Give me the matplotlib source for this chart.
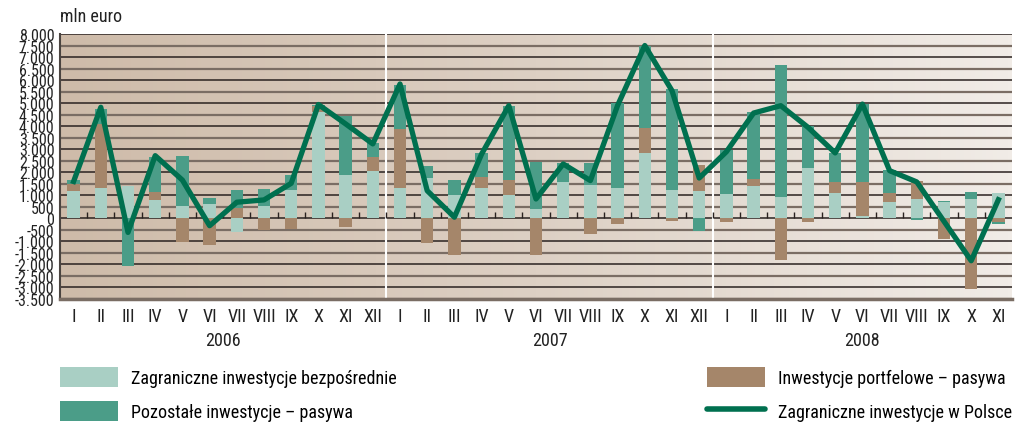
import numpy as np
import matplotlib
matplotlib.use('Agg')
import matplotlib.pyplot as plt
from matplotlib import font_manager
from matplotlib.colors import LinearSegmentedColormap
from matplotlib.patches import Patch
from matplotlib.lines import Line2D

installed = {f.name for f in font_manager.fontManager.ttflist}
narrow = [f for f in ['Roboto Condensed', 'Liberation Sans Narrow', 'DejaVu Sans Condensed',
	'Open Sans Condensed', 'Noto Sans Condensed'] if f in installed]
plt.rcParams['font.family'] = narrow + ['DejaVu Sans']
if not narrow:
	plt.rcParams['font.stretch'] = 'condensed'

months = ['I', 'II', 'III', 'IV', 'V', 'VI', 'VII', 'VIII', 'IX', 'X', 'XI', 'XII'] * 2 + \
	['I', 'II', 'III', 'IV', 'V', 'VI', 'VII', 'VIII', 'IX', 'X', 'XI']
years = ['2006', '2007', '2008']
year_lengths = [12, 12, 11]

# mln euro
fdi = [1200, 1300, 1390, 800, 535, 620, -580, 535, 1230, 4600, 1900, 2050,
	1320, 1750, 1010, 1320, 1010, 400, 1580, 1460, 1320, 2840, 1230, 1190,
	1060, 1400, 930, 2190, 1100, 100, 710, 840, 720, 840, 1100]
portfolio = [290, 2800, 0, 340, -1010, -1140, 450, -510, -460, 290, -380, 610,
	2560, -1090, -1580, 490, 650, -1580, 0, -680, -230, 1090, -120, 1130,
	-150, 300, -1800, -150, 480, 1480, 400, 780, -900, -3050, -170]
other = [190, 650, -2060, 1530, 2170, 260, 780, 740, 650, 50, 2520, 610,
	1910, 510, 650, 1030, 3230, 2040, 840, 940, 3690, 3530, 4390, -540,
	1920, 2900, 5730, 1810, 1260, 3390, 990, -60, 50, 300, -90]
total = [1600, 4820, -610, 2720, 1660, -320, 700, 800, 1520, 4940, 4100, 3230,
	5830, 1200, 50, 2790, 4890, 840, 2360, 1640, 4900, 7500, 5540, 1750,
	2890, 4570, 4890, 3950, 2840, 4960, 2070, 1580, -130, -1840, 810]

labels = ['Zagraniczne inwestycje bezpośrednie', 'Pozostałe inwestycje – pasywa',
	'Inwestycje portfelowe – pasywa', 'Zagraniczne inwestycje w Polsce']
c_fdi = '#a9cfc4'
c_other = '#4b9d88'
c_port = '#a5866a'
c_line = '#00704f'

fs_y = 11.5 if narrow else 10
fs = 13 if narrow else 10.5

fig = plt.figure(figsize=(10.16, 4.31), dpi=100)
ax = fig.add_axes([60 / 1016, 1 - 300 / 431, 952 / 1016, 265 / 431])

ymin, ymax = -3500, 8000
n = len(months)
x = np.arange(n)
ax.set_xlim(-0.5, n - 0.5)
ax.set_ylim(ymin, ymax)

# background gradient
cmap = LinearSegmentedColormap.from_list('bg', ['#cebba9', '#ddd0c4', '#f1ece7'])
ax.imshow(np.linspace(0, 1, 256).reshape(1, -1), cmap=cmap, aspect='auto',
	extent=(-0.5, n - 0.5, ymin, ymax), zorder=0)

yticks = list(range(ymin, ymax + 1, 500))
for v in yticks:
	if v % 1000 == 0:
		ax.axhline(v, color='#2a2220', lw=1.1, zorder=1)
	else:
		ax.axhline(v, color='#7a6d64', lw=1.6, zorder=1)

# stacked bars, positives upward and negatives downward
pos_base = np.zeros(n)
neg_base = np.zeros(n)
for vals, col in [(fdi, c_fdi), (portfolio, c_port), (other, c_other)]:
	vals = np.array(vals, dtype=float)
	base = np.where(vals >= 0, pos_base, neg_base)
	ax.bar(x, vals, bottom=base, width=0.46, color=col, zorder=2)
	pos_base += np.clip(vals, 0, None)
	neg_base += np.clip(vals, None, 0)

# small ticks on the zero line between months
ax.vlines(x[:-1] + 0.5, 0, 260, color='#2a2220', lw=1.0, zorder=2)

# year separators
bounds = np.cumsum(year_lengths)[:-1] - 0.5
for b in bounds:
	ax.axvline(b, color='white', lw=1.5, zorder=1.5)

ax.plot(x, total, color=c_line, lw=3.8, solid_joinstyle='round', zorder=4)

ax.set_yticks(yticks)
ax.set_yticklabels([f'{v:,}'.replace(',', '.') for v in yticks], fontsize=fs_y, color='#222222')
ax.set_xticks(x)
ax.set_xticklabels(months, fontsize=fs, color='#222222')
ax.tick_params(axis='both', length=0)
ax.tick_params(axis='x', pad=6)
ax.tick_params(axis='y', pad=4)

for side in ['top', 'right']:
	ax.spines[side].set_visible(False)
ax.spines['left'].set_color('#4a4440')
ax.spines['left'].set_linewidth(1.5)
ax.spines['bottom'].set_color('#7a6d64')
ax.spines['bottom'].set_linewidth(2.5)

starts = np.concatenate([[0], np.cumsum(year_lengths)[:-1]])
for yr, s, ln in zip(years, starts, year_lengths):
	ax.text(s + (ln - 1) / 2, -0.155, yr, transform=ax.get_xaxis_transform(),
		ha='center', va='center', fontsize=fs, color='#222222')

fig.text(60 / 1016, 1 - 17 / 431, 'mln euro', ha='left', va='center', fontsize=fs, color='#222222')

h_fdi = Patch(facecolor=c_fdi, label=labels[0])
h_other = Patch(facecolor=c_other, label=labels[1])
h_port = Patch(facecolor=c_port, label=labels[2])
h_line = Line2D([0], [0], color=c_line, lw=4, solid_capstyle='round', label=labels[3])

hl = 58 / (fs * 100 / 72)
leg_kw = dict(frameon=False, fontsize=fs, handlelength=hl, handleheight=1.3,
	labelspacing=0.8, handletextpad=0.7, borderpad=0, borderaxespad=0)
fig.legend(handles=[h_fdi, h_other], loc='upper left',
	bbox_to_anchor=(60 / 1016, 1 - 368 / 431), **leg_kw)
fig.legend(handles=[h_port, h_line], loc='upper right',
	bbox_to_anchor=(1012 / 1016, 1 - 368 / 431), **leg_kw)

fig.savefig('out.png', dpi=100)
